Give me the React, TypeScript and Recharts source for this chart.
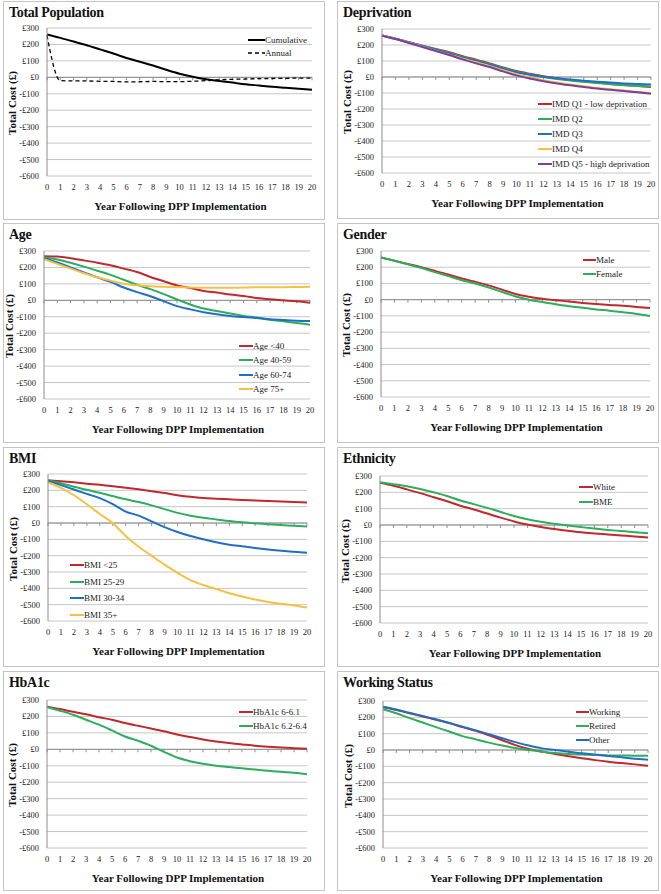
import React from 'react'
import {
  LineChart, Line, XAxis, YAxis, CartesianGrid, ReferenceLine,
} from 'recharts'

const years = [0, 1, 2, 3, 4, 5, 6, 7, 8, 9, 10, 11, 12, 13, 14, 15, 16, 17, 18, 19, 20]
const costTicks = [300, 200, 100, 0, -100, -200, -300, -400, -500, -600]

// Total population
const totalCumulative = [260, 240, 218, 195, 170, 145, 118, 95, 72, 46, 22, 3, -12, -22, -32, -42, -50, -58, -64, -70, -76]
const totalAnnual = [255, -20, -22, -22, -24, -25, -28, -27, -25, -26, -26, -24, -20, -15, -12, -10, -8, -7, -6, -5, -5]

// Deprivation
const imdQ1 = [260, 240, 218, 196, 175, 155, 130, 108, 85, 60, 37, 20, 5, -8, -18, -27, -35, -43, -50, -56, -62]
const imdQ2 = [260, 240, 217, 195, 172, 150, 126, 103, 80, 56, 33, 15, 0, -12, -22, -30, -38, -45, -51, -56, -61]
const imdQ3 = [260, 239, 216, 193, 170, 147, 122, 100, 77, 52, 30, 14, 2, -8, -16, -23, -29, -35, -40, -44, -47]
const imdQ4 = [260, 238, 215, 190, 165, 140, 115, 92, 68, 42, 18, -2, -20, -35, -47, -58, -68, -77, -85, -93, -100]
const imdQ5 = [258, 237, 213, 188, 163, 137, 110, 85, 62, 35, 10, -10, -27, -40, -52, -62, -72, -80, -88, -96, -104]

// Age
const ageUnder40 = [268, 266, 256, 243, 229, 213, 193, 172, 142, 116, 91, 75, 57, 47, 35, 26, 14, 6, 0, -6, -14]
const age40to59 = [262, 248, 228, 205, 180, 155, 125, 95, 68, 38, 5, -25, -50, -65, -80, -95, -105, -118, -128, -138, -148]
const age60to74 = [258, 230, 200, 170, 140, 112, 78, 50, 25, -5, -35, -55, -72, -85, -95, -102, -108, -115, -120, -124, -126]
const age75plus = [250, 222, 193, 165, 140, 120, 100, 92, 85, 82, 80, 78, 77, 77, 76, 78, 79, 80, 80, 81, 82]

// Gender
const male = [260, 240, 220, 200, 178, 155, 130, 110, 88, 62, 35, 18, 5, -3, -12, -20, -27, -33, -38, -45, -52]
const female = [260, 240, 218, 195, 170, 145, 120, 100, 75, 47, 20, 0, -15, -28, -40, -50, -60, -68, -78, -88, -100]

// BMI
const bmiUnder25 = [262, 256, 249, 241, 234, 225, 216, 206, 195, 183, 170, 160, 153, 149, 145, 141, 138, 135, 132, 129, 126]
const bmi25to29 = [262, 243, 222, 203, 185, 165, 145, 128, 108, 85, 62, 45, 32, 22, 12, 4, -2, -8, -13, -17, -22]
const bmi30to34 = [258, 232, 205, 178, 152, 115, 70, 45, 10, -25, -55, -80, -100, -118, -133, -143, -153, -162, -170, -176, -182]
const bmi35plus = [248, 215, 170, 115, 55, 0, -80, -145, -200, -255, -305, -350, -380, -405, -430, -450, -468, -483, -495, -505, -518]

// Ethnicity
const white = [258, 240, 218, 195, 170, 145, 118, 95, 70, 45, 22, 3, -12, -25, -35, -45, -52, -58, -64, -70, -77]
const bme = [262, 250, 237, 220, 200, 178, 150, 128, 105, 80, 55, 35, 20, 8, -3, -13, -22, -30, -37, -44, -50]

// HbA1c
const hba1cLow = [260, 245, 228, 213, 195, 180, 160, 143, 127, 110, 90, 75, 60, 48, 38, 30, 22, 16, 11, 7, 3]
const hba1cHigh = [258, 235, 210, 180, 150, 115, 78, 52, 22, -15, -50, -72, -88, -100, -108, -115, -123, -130, -137, -143, -152]

// Working status
const working = [262, 245, 225, 205, 185, 165, 140, 118, 90, 60, 30, 7, -10, -25, -38, -50, -62, -72, -80, -88, -97]
const retired = [250, 225, 195, 168, 140, 113, 85, 65, 45, 27, 12, 0, -10, -18, -24, -28, -31, -33, -34, -35, -35]
const other = [265, 248, 228, 208, 188, 165, 143, 120, 97, 72, 48, 27, 10, 0, -10, -20, -28, -37, -45, -53, -60]

const RED = '#C0282D'
const GREEN = '#2EAD5C'
const BLUE = '#1F70C4'
const YELLOW = '#F6C143'
const PURPLE = '#7A3F9D'

const serif = '"Liberation Serif"'

type Series = { name: string; values: number[]; color: string; dashed?: boolean }

type PanelProps = {
  title: string
  box: [number, number, number, number] // left, top, width, height
  plot: [number, number, number, number] // left, top, right, bottom (page coords)
  legend: { x: number; y: number; gap: number; len: number }
  series: Series[]
}

function fmtCost(v: number) {
  if (v < 0) return `-£${Math.abs(v)}`
  return `£${v}`
}

function Panel({ title, box, plot, legend, series }: PanelProps) {
  const [bx, by, bw, bh] = box
  const [pl, pt, pr, pb] = plot
  const rows = years.map((year, i) => {
    const row: Record<string, number> = { year }
    series.forEach((s, k) => { row[`s${k}`] = s.values[i] })
    return row
  })
  const plotCx = pl - bx + (pr - pl) / 2
  const plotCy = (pt + pb) / 2 - by

  return (
    <div style={{
      position: 'absolute', left: bx, top: by, width: bw, height: bh,
      border: '1px solid #C4C4C4', boxSizing: 'border-box', background: '#fff',
      fontFamily: serif,
    }}>
      <div style={{
        position: 'absolute', left: 5, top: 3, fontWeight: 'bold',
        fontSize: 14, color: '#111', letterSpacing: -0.3,
      }}>{title}</div>
      <div style={{ position: 'absolute', left: -1, top: -1 }}>
        <LineChart
          width={bw}
          height={bh}
          data={rows}
          margin={{ top: pt - by, right: bx + bw - pr, left: 0, bottom: 0 }}
        >
          <CartesianGrid horizontal vertical={false} stroke="#C6C6C6" />
          <XAxis
            dataKey="year"
            type="number"
            domain={[0, 20]}
            ticks={years}
            height={by + bh - pb}
            axisLine={false}
            tickLine={false}
            interval={0}
            tick={{ fontSize: 8.5, fill: '#222', fontFamily: serif }}
          />
          <YAxis
            type="number"
            domain={[-600, 300]}
            ticks={costTicks}
            width={pl - bx}
            interval={0}
            tickFormatter={fmtCost}
            axisLine={{ stroke: '#8C8C8C' }}
            tickLine={false}
            tick={{ fontSize: 8.5, fill: '#222', fontFamily: serif }}
          />
          <ReferenceLine y={0} stroke="#8C8C8C" />
          {years.map(yr => (
            <ReferenceLine
              key={`t${yr}`}
              segment={[{ x: yr, y: 0 }, { x: yr, y: -18 }]}
              stroke="#8C8C8C"
            />
          ))}
          {series.map((s, k) => (
            <Line
              key={s.name}
              type="monotone"
              dataKey={`s${k}`}
              stroke={s.color}
              strokeWidth={s.dashed ? 1.3 : 2}
              strokeDasharray={s.dashed ? '4 3' : undefined}
              dot={false}
              isAnimationActive={false}
            />
          ))}
        </LineChart>
      </div>
      <div style={{ position: 'absolute', left: 0, top: plotCy, width: 0, height: 0 }}>
        <div style={{
          position: 'absolute', left: pl - bx - 36, top: 0,
          transform: 'translate(-50%, -50%) rotate(-90deg)', whiteSpace: 'nowrap',
          fontWeight: 'bold', fontSize: 11, color: '#111',
        }}>Total Cost (£)</div>
      </div>
      <div style={{
        position: 'absolute', left: plotCx, top: pb - by + 29,
        transform: 'translate(-50%, -50%)', whiteSpace: 'nowrap',
        fontWeight: 'bold', fontSize: 11, color: '#111',
      }}>Year Following DPP Implementation</div>
      {series.map((s, k) => (
        <div key={s.name} style={{
          position: 'absolute', left: legend.x - bx, top: legend.y - by + k * legend.gap,
          transform: 'translateY(-50%)', display: 'flex', alignItems: 'center',
          whiteSpace: 'nowrap', fontSize: 9, color: '#222',
        }}>
          <svg width={legend.len} height={4} style={{ display: 'block' }}>
            <line x1={0} y1={2} x2={legend.len} y2={2} stroke={s.color}
              strokeWidth={s.dashed ? 1.3 : 2} strokeDasharray={s.dashed ? '4 3' : undefined} />
          </svg>
          <span>{s.name}</span>
        </div>
      ))}
    </div>
  )
}

export default function App() {
  return (
    <div style={{
      position: 'absolute', left: 0, top: 0, width: 661, height: 894, background: '#fff',
      fontFamily: serif,
    }}>
      <Panel
        title="Total Population"
        box={[3, 1, 322, 219]}
        plot={[47, 28, 312, 176]}
        legend={{ x: 247, y: 39, gap: 13, len: 17 }}
        series={[
          { name: 'Cumulative', values: totalCumulative, color: '#000' },
          { name: 'Annual', values: totalAnnual, color: '#000', dashed: true },
        ]}
      />
      <Panel
        title="Deprivation"
        box={[337, 1, 322, 218]}
        plot={[382, 29, 651, 173]}
        legend={{ x: 537, y: 103, gap: 15, len: 14 }}
        series={[
          { name: 'IMD Q1 - low deprivation', values: imdQ1, color: RED },
          { name: 'IMD Q2', values: imdQ2, color: GREEN },
          { name: 'IMD Q3', values: imdQ3, color: BLUE },
          { name: 'IMD Q4', values: imdQ4, color: YELLOW },
          { name: 'IMD Q5 - high deprivation', values: imdQ5, color: PURPLE },
        ]}
      />
      <Panel
        title="Age"
        box={[3, 223, 322, 220]}
        plot={[44, 251, 310, 399]}
        legend={{ x: 238, y: 345, gap: 14.3, len: 14 }}
        series={[
          { name: 'Age <40', values: ageUnder40, color: RED },
          { name: 'Age 40-59', values: age40to59, color: GREEN },
          { name: 'Age 60-74', values: age60to74, color: BLUE },
          { name: 'Age 75+', values: age75plus, color: YELLOW },
        ]}
      />
      <Panel
        title="Gender"
        box={[337, 223, 322, 220]}
        plot={[381, 251, 650, 397]}
        legend={{ x: 582, y: 259, gap: 14, len: 13 }}
        series={[
          { name: 'Male', values: male, color: RED },
          { name: 'Female', values: female, color: GREEN },
        ]}
      />
      <Panel
        title="BMI"
        box={[3, 447, 322, 220]}
        plot={[48, 474, 307, 621]}
        legend={{ x: 69, y: 564, gap: 16.5, len: 14 }}
        series={[
          { name: 'BMI <25', values: bmiUnder25, color: RED },
          { name: 'BMI 25-29', values: bmi25to29, color: GREEN },
          { name: 'BMI 30-34', values: bmi30to34, color: BLUE },
          { name: 'BMI 35+', values: bmi35plus, color: YELLOW },
        ]}
      />
      <Panel
        title="Ethnicity"
        box={[337, 447, 322, 220]}
        plot={[380, 476, 648, 623]}
        legend={{ x: 578, y: 486, gap: 15, len: 14 }}
        series={[
          { name: 'White', values: white, color: RED },
          { name: 'BME', values: bme, color: GREEN },
        ]}
      />
      <Panel
        title="HbA1c"
        box={[3, 671, 322, 220]}
        plot={[47, 700, 307, 848]}
        legend={{ x: 238, y: 711, gap: 13.5, len: 14 }}
        series={[
          { name: 'HbA1c 6-6.1', values: hba1cLow, color: RED },
          { name: 'HbA1c 6.2-6.4', values: hba1cHigh, color: GREEN },
        ]}
      />
      <Panel
        title="Working Status"
        box={[337, 671, 322, 220]}
        plot={[383, 701, 648, 848]}
        legend={{ x: 575, y: 711, gap: 14, len: 13 }}
        series={[
          { name: 'Working', values: working, color: RED },
          { name: 'Retired', values: retired, color: GREEN },
          { name: 'Other', values: other, color: BLUE },
        ]}
      />
    </div>
  )
}
